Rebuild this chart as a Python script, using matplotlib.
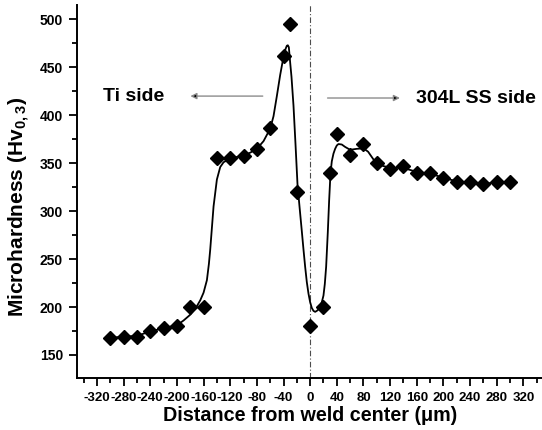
import matplotlib
matplotlib.use('Agg')
import matplotlib.pyplot as plt
from matplotlib.ticker import MultipleLocator

plt.rcParams['font.family'] = ['Liberation Sans', 'DejaVu Sans']
plt.rcParams['font.weight'] = 'bold'
plt.rcParams['axes.unicode_minus'] = False
plt.rcParams['mathtext.fontset'] = 'custom'
plt.rcParams['mathtext.rm'] = 'Liberation Sans:bold'
plt.rcParams['mathtext.bf'] = 'Liberation Sans:bold'

# measured points
distance = [-300, -280, -260, -240, -220, -200, -180, -160, -140, -120, -100, -80, -60, -40, -30, -20,
            0, 20, 30, 40, 60, 80, 100, 120, 140, 160, 180, 200, 220, 240, 260, 280, 300]
hardness = [168, 169, 169, 175, 178, 180, 200, 200, 355, 355, 358, 365, 387, 462, 495, 320,
            180, 200, 340, 380, 359, 370, 350, 344, 347, 340, 340, 335, 330, 330, 328, 330, 330]

# smoothed fit line
fit_x = [-300, -280, -260, -240, -220, -200, -190, -180, -170, -165, -160, -155, -152, -150, -145,
         -140, -135, -130, -125, -120, -110, -100, -90, -80, -70, -60, -55, -50, -45, -40, -37,
         -35, -33.5, -32, -30, -28, -25, -22, -19, -16, -12.5, -10, -7.5, -5, -2.5, 0, 2.5, 5,
         7.5, 10, 12.5, 15, 17.5, 20, 22, 24, 26.5, 28.5, 30.5, 32.5, 35, 37.5, 40, 42.5, 47.5,
         52.5, 60, 70, 80, 87, 95, 100, 110, 120, 140, 160, 180, 200, 220, 240, 260, 280, 300]
fit_y = [168, 169, 170, 174.5, 178, 181, 186, 192, 201, 207, 215, 228, 245, 260, 305,
         333, 346, 351, 353, 355, 356.5, 358, 361, 365, 373, 386, 399, 420, 442, 461, 469,
         472.5, 473, 471, 455, 440, 410, 370, 328, 305, 279, 260, 242, 226, 214, 205, 199, 196,
         195, 196, 197.5, 200, 205, 212, 224, 242, 278, 311, 339, 352, 360, 365, 368.5, 370, 369.5,
         367, 364, 365, 365.5, 362, 354, 350, 347, 345.5, 345, 341, 339, 335, 331, 330, 329, 329.5, 330]

fig = plt.figure(figsize=(5.42, 4.30), dpi=100)
ax = fig.add_axes([77 / 542, 52 / 430, 466.3 / 542, 373 / 430])

ax.plot(fit_x, fit_y, color='black', lw=1.3, zorder=2)
ax.plot(distance, hardness, linestyle='none', marker='D', ms=6.8, color='black', zorder=3)
ax.axvline(0, color='0.3', lw=0.8, linestyle=(0, (5, 2, 1, 2)), zorder=1)

# side labels and arrows
ax.annotate('', xy=(-184, 420), xytext=(-67, 420),
            arrowprops=dict(arrowstyle='-|>', ec='0.55', fc='black', lw=1, mutation_scale=9))
ax.annotate('', xy=(139, 418), xytext=(22, 418),
            arrowprops=dict(arrowstyle='-|>', ec='0.55', fc='black', lw=1, mutation_scale=9))
ax.text(-311, 420, 'Ti side', fontsize=14, fontweight='bold', va='center', ha='left')
ax.text(159, 418, '304L SS side', fontsize=14, fontweight='bold', va='center', ha='left')

ax.set_xlim(-350, 350)
ax.set_ylim(126, 515)
ax.xaxis.set_minor_locator(MultipleLocator(20))
ax.yaxis.set_major_locator(MultipleLocator(50))
ax.yaxis.set_minor_locator(MultipleLocator(25))
ax.set_xticks(range(-320, 321, 40))

for side in ['top', 'right']:
    ax.spines[side].set_visible(False)
for side in ['left', 'bottom']:
    ax.spines[side].set_linewidth(1.4)

ax.tick_params(which='major', direction='out', length=6, width=1.3)
ax.tick_params(which='minor', direction='out', length=3.5, width=1.3)
ax.tick_params(axis='x', labelsize=9.5, pad=4)
ax.tick_params(axis='y', labelsize=10, pad=4)
for lab in ax.get_xticklabels() + ax.get_yticklabels():
    lab.set_fontweight('bold')

ax.set_xlabel('Distance from weld center (μm)', fontsize=14.2, fontweight='bold')
ax.xaxis.set_label_coords(0.5, -0.075)
fig.text(19.5 / 542, 1 - 207 / 430, r'Microhardness (Hv$_{0,3}$)', fontsize=15, fontweight='bold',
         rotation=90, ha='center', va='center')

fig.savefig('out.png', dpi=100)
